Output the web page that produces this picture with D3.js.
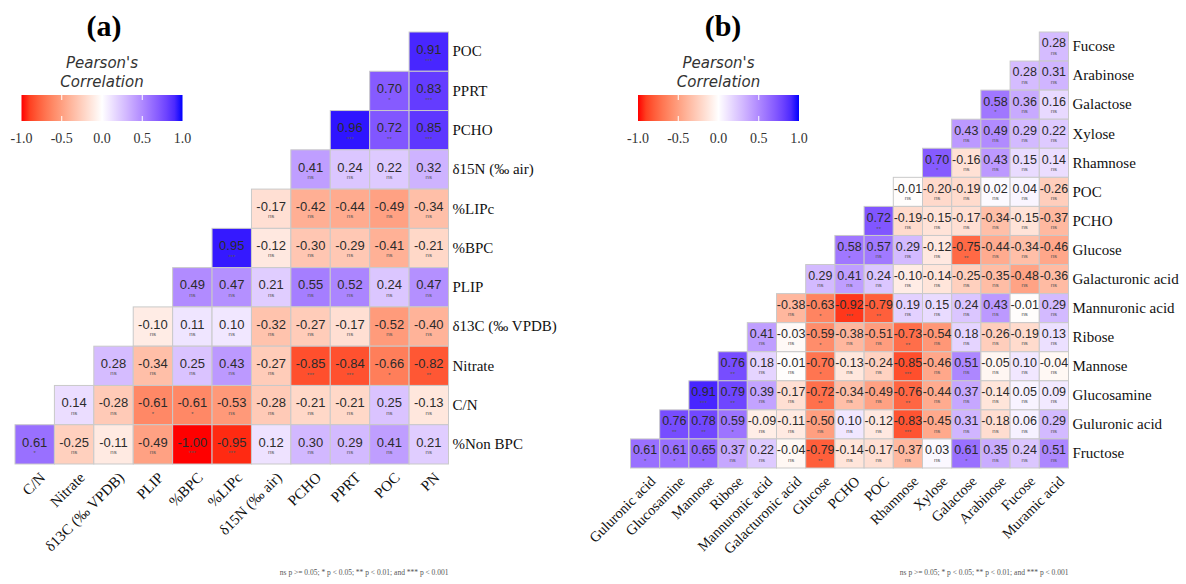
<!DOCTYPE html>
<html>
<head>
    <meta charset='utf-8'>
    <title>Pearson correlation matrices</title>
    <style>
        body { margin: 0; background: #fff; }
    </style>
</head>
<body>
<svg width="1186" height="584"></svg>
<script src="https://d3js.org/d3.v7.min.js"></script>
<script>
    // panel (a): columns left to right, rows top to bottom
    const aCols = ["C/N", "Nitrate", "δ13C (‰ VPDB)", "PLIP", "%BPC", "%LIPc", "δ15N (‰ air)", "PCHO", "PPRT", "POC", "PN"]
    const aRows = ["POC", "PPRT", "PCHO", "δ15N (‰ air)", "%LIPc", "%BPC", "PLIP", "δ13C (‰ VPDB)", "Nitrate", "C/N", "%Non BPC"]
    // each row is right-aligned in the triangle
    const aR = [
        [0.91],
        [0.70, 0.83],
        [0.96, 0.72, 0.85],
        [0.41, 0.24, 0.22, 0.32],
        [-0.17, -0.42, -0.44, -0.49, -0.34],
        [0.95, -0.12, -0.30, -0.29, -0.41, -0.21],
        [0.49, 0.47, 0.21, 0.55, 0.52, 0.24, 0.47],
        [-0.10, 0.11, 0.10, -0.32, -0.27, -0.17, -0.52, -0.40],
        [0.28, -0.34, 0.25, 0.43, -0.27, -0.85, -0.84, -0.66, -0.82],
        [0.14, -0.28, -0.61, -0.61, -0.53, -0.28, -0.21, -0.21, 0.25, -0.13],
        [0.61, -0.25, -0.11, -0.49, -1.00, -0.95, 0.12, 0.30, 0.29, 0.41, 0.21]
    ]
    const aP = [
        ["***"],
        ["*", "***"],
        ["***", "**", "***"],
        ["ns", "ns", "ns", "ns"],
        ["ns", "ns", "ns", "ns", "ns"],
        ["***", "ns", "ns", "ns", "ns", "ns"],
        ["ns", "ns", "ns", "ns", "ns", "ns", "ns"],
        ["ns", "ns", "ns", "ns", "ns", "ns", "ns", "ns"],
        ["ns", "ns", "ns", "ns", "ns", "***", "***", "*", "**"],
        ["ns", "ns", "*", "*", "ns", "ns", "ns", "ns", "ns", "ns"],
        ["*", "ns", "ns", "ns", "***", "***", "ns", "ns", "ns", "ns", "ns"]
    ]

    // panel (b)
    const bCols = ["Guluronic acid", "Glucosamine", "Mannose", "Ribose", "Mannuronic acid", "Galacturonic acid", "Glucose", "PCHO", "POC", "Rhamnose", "Xylose", "Galactose", "Arabinose", "Fucose", "Muramic acid"]
    const bRows = ["Fucose", "Arabinose", "Galactose", "Xylose", "Rhamnose", "POC", "PCHO", "Glucose", "Galacturonic acid", "Mannuronic acid", "Ribose", "Mannose", "Glucosamine", "Guluronic acid", "Fructose"]
    const bR = [
        [0.28],
        [0.28, 0.31],
        [0.58, 0.36, 0.16],
        [0.43, 0.49, 0.29, 0.22],
        [0.70, -0.16, 0.43, 0.15, 0.14],
        [-0.01, -0.20, -0.19, 0.02, 0.04, -0.26],
        [0.72, -0.19, -0.15, -0.17, -0.34, -0.15, -0.37],
        [0.58, 0.57, 0.29, -0.12, -0.75, -0.44, -0.34, -0.46],
        [0.29, 0.41, 0.24, -0.10, -0.14, -0.25, -0.35, -0.48, -0.36],
        [-0.38, -0.63, -0.92, -0.79, 0.19, 0.15, 0.24, 0.43, -0.01, 0.29],
        [0.41, -0.03, -0.59, -0.38, -0.51, -0.73, -0.54, 0.18, -0.26, -0.19, 0.13],
        [0.76, 0.18, -0.01, -0.70, -0.13, -0.24, -0.85, -0.46, 0.51, -0.05, 0.10, -0.04],
        [0.91, 0.79, 0.39, -0.17, -0.72, -0.34, -0.49, -0.76, -0.44, 0.37, -0.14, 0.05, 0.09],
        [0.76, 0.78, 0.59, -0.09, -0.11, -0.50, 0.10, -0.12, -0.83, -0.45, 0.31, -0.18, 0.06, 0.29],
        [0.61, 0.61, 0.65, 0.37, 0.22, -0.04, -0.79, -0.14, -0.17, -0.37, 0.03, 0.61, 0.35, 0.24, 0.51]
    ]
    const bP = [
        ["ns"],
        ["ns", "ns"],
        ["*", "ns", "ns"],
        ["ns", "ns", "ns", "ns"],
        ["*", "ns", "ns", "ns", "ns"],
        ["ns", "ns", "ns", "ns", "ns", "ns"],
        ["**", "ns", "ns", "ns", "ns", "ns", "ns"],
        ["*", "ns", "ns", "ns", "**", "ns", "ns", "ns"],
        ["ns", "ns", "ns", "ns", "ns", "ns", "ns", "ns", "ns"],
        ["ns", "*", "***", "**", "ns", "ns", "ns", "ns", "ns", "ns"],
        ["ns", "ns", "*", "ns", "ns", "**", "ns", "ns", "ns", "ns", "ns"],
        ["**", "ns", "ns", "*", "ns", "ns", "***", "ns", "ns", "ns", "ns", "ns"],
        ["***", "**", "ns", "ns", "**", "ns", "ns", "**", "ns", "ns", "ns", "ns", "ns"],
        ["**", "**", "*", "ns", "ns", "ns", "ns", "ns", "***", "ns", "ns", "ns", "ns", "ns"],
        ["*", "*", "*", "ns", "ns", "ns", "**", "ns", "ns", "ns", "ns", "*", "ns", "ns", "ns"]
    ]

    const legendTicks = [-1, -0.5, 0, 0.5, 1]
    const footnote = "ns p >= 0.05; * p < 0.05; ** p < 0.01; and *** p < 0.001"

    const serif = "'Liberation Serif', 'Times New Roman', serif"
    const sans = "'Liberation Sans', Arial, sans-serif"

    const color = d3.scaleLinear()
        .domain([-1, 0, 1])
        .range(["#ff0000", "#ffffff", "#0000ff"])
        .interpolate(d3.interpolateLab)

    // plain hyphen minus, like the original figure
    const hyph = f => v => f(v).replace("\u2212", "-")
    const fmt = hyph(d3.format(".2f"))
    const fmt1 = hyph(d3.format(".1f"))
    const svg = d3.select("svg")

    const drawPanel = (p) => {
        const n = p.cols.length
        const x = d3.scaleBand().domain(d3.range(n)).range([p.left, p.right])
        const y = d3.scaleBand().domain(d3.range(n)).range([p.top, p.bottom])

        const cells = []
        p.r.forEach((row, i) => {
            row.forEach((v, k) => {
                cells.push({i: i, j: n - row.length + k, v: v, s: p.p[i][k]})
            })
        })

        const g = svg.append("g")

        g.append("g")
            .selectAll("rect")
            .data(cells)
            .join("rect")
            .attr("x", d => x(d.j))
            .attr("y", d => y(d.i))
            .attr("width", x.bandwidth())
            .attr("height", y.bandwidth())
            .attr("fill", d => color(d.v))
            .attr("stroke", "#c9c9c9")
            .attr("stroke-width", 1)

        g.append("g")
            .attr("font-family", sans)
            .attr("font-size", p.valueSize)
            .attr("fill", "#2b2b2b")
            .attr("text-anchor", "middle")
            .selectAll("text")
            .data(cells)
            .join("text")
            .attr("x", d => x(d.j) + x.bandwidth() / 2)
            .attr("y", d => y(d.i) + y.bandwidth() * p.valueY)
            .attr("dy", "0.35em")
            .text(d => fmt(d.v))

        g.append("g")
            .attr("font-family", sans)
            .attr("font-size", 6)
            .attr("fill", "#555")
            .attr("text-anchor", "middle")
            .selectAll("text")
            .data(cells)
            .join("text")
            .attr("x", d => x(d.j) + x.bandwidth() / 2)
            .attr("y", d => y(d.i) + y.bandwidth() * p.starY + (d.s === "ns" ? 0 : 1.5))
            .text(d => d.s)

        // row labels on the right
        g.append("g")
            .attr("transform", `translate(${p.right},0)`)
            .call(d3.axisRight(y).tickSize(0).tickPadding(4).tickFormat(i => p.rows[i]))
            .call(a => a.select(".domain").remove())
            .call(a => a.selectAll("text")
                .attr("font-family", serif)
                .attr("font-size", p.rowSize)
                .attr("fill", "#111"))

        // column labels, rotated
        g.append("g")
            .attr("font-family", serif)
            .attr("font-size", p.colSize)
            .attr("fill", "#111")
            .attr("text-anchor", "end")
            .selectAll("text")
            .data(p.cols)
            .join("text")
            .attr("transform", (d, j) => `translate(${x(j) + x.bandwidth() / 2 + 4},${p.bottom + 7}) rotate(-45)`)
            .attr("dy", "0.71em")
            .text(d => d)

        // panel title
        svg.append("text")
            .attr("x", p.titleX)
            .attr("y", 36)
            .attr("text-anchor", "middle")
            .attr("font-family", serif)
            .attr("font-weight", "bold")
            .attr("font-size", 30)
            .attr("fill", "#000")
            .text(p.title)

        // legend
        const lx = d3.scaleLinear().domain([-1, 1]).range([p.legLeft, p.legLeft + 161])
        const legTop = 95
        const legH = 26
        const gradId = "grad-" + p.id
        const grad = svg.append("defs").append("linearGradient")
            .attr("id", gradId)
        d3.range(0, 1.0001, 0.05).forEach(t => {
            grad.append("stop")
                .attr("offset", t)
                .attr("stop-color", color(-1 + 2 * t))
        })

        const leg = svg.append("g")
        leg.append("text")
            .attr("x", lx(0))
            .attr("y", 68)
            .attr("text-anchor", "middle")
            .attr("font-family", "'DejaVu Sans', sans-serif")
            .attr("font-style", "italic")
            .attr("font-size", 15)
            .attr("fill", "#333")
            .selectAll("tspan")
            .data(["Pearson's", "Correlation"])
            .join("tspan")
            .attr("x", lx(0))
            .attr("dy", (d, i) => i === 0 ? 0 : 19)
            .text(d => d)

        leg.append("rect")
            .attr("x", lx(-1))
            .attr("y", legTop)
            .attr("width", lx(1) - lx(-1))
            .attr("height", legH)
            .attr("fill", `url(#${gradId})`)

        leg.append("g")
            .attr("stroke", "#fff")
            .attr("stroke-width", 1)
            .selectAll("g")
            .data(legendTicks.slice(1, -1))
            .join("g")
            .call(t => t.append("line")
                .attr("x1", d => lx(d)).attr("x2", d => lx(d))
                .attr("y1", legTop).attr("y2", legTop + 5))
            .call(t => t.append("line")
                .attr("x1", d => lx(d)).attr("x2", d => lx(d))
                .attr("y1", legTop + legH - 5).attr("y2", legTop + legH))

        leg.append("g")
            .attr("font-family", serif)
            .attr("font-size", 14)
            .attr("fill", "#333")
            .attr("text-anchor", "middle")
            .selectAll("text")
            .data(legendTicks)
            .join("text")
            .attr("x", d => lx(d))
            .attr("y", 143)
            .text(d => fmt1(d))

        // footnote
        svg.append("text")
            .attr("x", p.right)
            .attr("y", 575)
            .attr("text-anchor", "end")
            .attr("font-family", serif)
            .attr("font-size", 7.5)
            .attr("fill", "#555")
            .text(footnote)
    }

    drawPanel({
        id: "a", title: "(a)", titleX: 104,
        cols: aCols, rows: aRows, r: aR, p: aP,
        left: 15, right: 448.5, top: 32, bottom: 464,
        valueSize: 13, valueY: 0.44, starY: 0.74,
        rowSize: 15, colSize: 15, legLeft: 21.5
    })

    drawPanel({
        id: "b", title: "(b)", titleX: 723,
        cols: bCols, rows: bRows, r: bR, p: bP,
        left: 630.5, right: 1068.5, top: 32, bottom: 468,
        valueSize: 12.5, valueY: 0.38, starY: 0.78,
        rowSize: 15, colSize: 14.5, legLeft: 638
    })
</script>
</body>
</html>
